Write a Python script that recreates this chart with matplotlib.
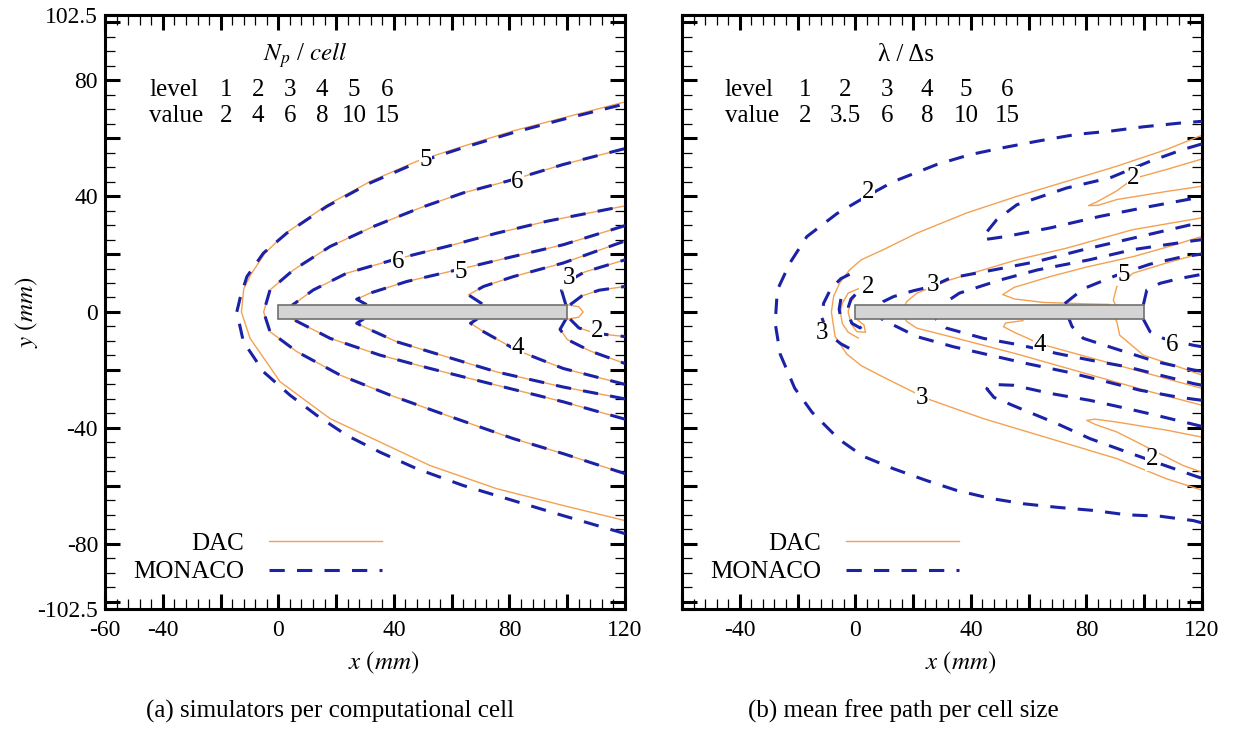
import matplotlib.pyplot as plt
from matplotlib.lines import Line2D
from matplotlib.patches import Rectangle
from matplotlib.ticker import MultipleLocator

plt.rcParams['font.family'] = 'Liberation Serif'
plt.rcParams['mathtext.fontset'] = 'stix'

# level tables printed in each panel
levels = ['1', '2', '3', '4', '5', '6']
np_values = ['2', '4', '6', '8', '10', '15']
mfp_values = ['2', '3.5', '6', '8', '10', '15']

# flat plate, mm
plate_x = [0, 100]
plate_y = [-2.5, 2.5]

# ---- (a) simulators per cell, iso-lines as (x, y) in mm ----
np_lvl5_outer_monaco = [(120, -76.5), (98.6, -70.3), (81.3, -65.1), (64, -59.9), (47.9, -54.1),
                        (35.2, -48.4), (23.7, -42.6), (13.3, -35.7), (4, -28.7), (-5.1, -20.7),
                        (-12.1, -10.3), (-14.4, 0), (-13.2, 5), (-10.9, 12.2), (-5.2, 20.3),
                        (2.9, 27.2), (16.7, 36.4), (31.7, 44.5), (47.9, 51.5), (64, 56.7),
                        (81.3, 61.9), (98.6, 66.5), (120, 71.8)]
np_lvl5_outer_dac = [(120, -72), (98.6, -66.8), (75.6, -61), (52.5, -53), (35.2, -44.9),
                     (17.9, -36.8), (0.6, -24.1), (-9.8, -9.1), (-12.8, 0), (-12, 8),
                     (-9.5, 13), (-4.5, 20.5), (3, 27.5), (16.7, 36.8), (31.7, 45),
                     (47.9, 52), (64, 57.2), (81.3, 62.5), (98.6, 67), (120, 72.5)]
np_lvl6_outer = [(120, -55.8), (98.6, -48.9), (81.3, -43.7), (58.3, -35.7), (38.7, -28.7),
                 (21.4, -21.8), (6.4, -13.7), (-2.9, -6.8), (-5.1, 0), (-2.9, 7.6),
                 (5.2, 14.5), (17.9, 22.6), (32.9, 29.5), (49, 35.9), (64, 41.1),
                 (81.3, 45.7), (98.6, 50.9), (120, 56.4)]
np_lvl6_inner = [(120, -37), (98.6, -31), (75.6, -25.3), (52.5, -19.5), (35.2, -14.9),
                 (17.9, -9.1), (5, -2.5), (3, 0), (5, 2.5), (12.1, 7.6), (23.7, 13.4),
                 (39.8, 18), (58.3, 22.6), (75.6, 27.2), (92.9, 31.3), (120, 36.6)]
np_lvl5_inner = [(120, -30), (98.6, -25.9), (75.6, -20.7), (58.3, -15.5), (41, -10.3),
                 (30.6, -5.6), (27.1, -3.9), (29.4, -2.5), (30, 0), (30.6, 2.5), (27.1, 4.4),
                 (31.7, 6.5), (44.4, 10.5), (61.7, 14.5), (79, 18.6), (98.6, 23.2), (120, 29.8)]
np_lvl4 = [(120, -25), (98.6, -19.5), (82.5, -13.2), (71, -6.8), (66.5, -3.9), (68.7, -2.5),
           (70, 0), (71, 2.5), (65.8, 5.9), (71, 8.8), (81.3, 12.2), (98.6, 16.9), (120, 24.5)]
np_lvl3_upper = [(99.5, 2.5), (98, 7.5), (101, 11), (106, 13.8), (120, 18)]
np_lvl3_lower = [(99.5, -2.5), (97.5, -6), (100, -9.5), (108, -13.5), (120, -17.8)]
np_lvl2_upper = [(101, 2.5), (105, 5.5), (111, 7.5), (120, 8.8)]
np_lvl2_lower = [(101, -2.5), (104, -5.5), (110, -7.4), (120, -8.5)]
np_dac_nose = [(100, 2.5), (104, 1.8), (105.5, 0), (104, -1.8), (100, -2.5)]

np_shared = [np_lvl6_outer, np_lvl6_inner, np_lvl5_inner, np_lvl4,
             np_lvl3_upper, np_lvl3_lower, np_lvl2_upper, np_lvl2_lower]
np_dac_lines = [np_lvl5_outer_dac, np_dac_nose] + np_shared
np_monaco_lines = [np_lvl5_outer_monaco] + np_shared

np_labels = [('5', 50.9, 52.6), ('6', 82.7, 45), ('6', 41.4, 17.3), ('5', 63, 13.8),
             ('3', 100.6, 11.8), ('2', 110.3, -6.6), ('4', 82.7, -12.5)]

# ---- (b) mean free path per cell size ----
mfp_dac_outer = [(120, -61.5), (107.8, -57.6), (90.5, -50.6), (67.4, -43.7), (44.3, -36.8),
                 (24.7, -29.9), (9.7, -22.5), (2, -18.5), (-3, -14.5), (-7, -8.5), (-8.3, 0),
                 (-7.5, 5.5), (-5.4, 10), (-2, 14.5), (2, 18), (9.7, 21.5), (21.3, 27.2),
                 (38.6, 34.2), (55.9, 39.9), (73.2, 45.1), (90.5, 50.3), (107.8, 56.1), (120, 61)]
mfp_dac_tongue_up = [(120, 52.8), (107.8, 49.2), (96.2, 46), (90.5, 41.8), (84, 38.2),
                     (80.7, 36.7), (84, 36.8), (90.5, 38.8), (107.8, 41.6), (120, 43.4)]
mfp_dac_tongue_lo = [(120, -43.2), (107.8, -40.8), (90.5, -38), (83, -37), (80.1, -37.4),
                     (83, -38.8), (90.5, -41.4), (102, -47.2), (113.5, -53), (120, -55.3)]
mfp_dac_lvl3 = [(120, -32.2), (102, -27.5), (78.9, -21), (55.9, -14.5), (32.8, -8.5),
                (21.3, -5.6), (17.8, -3.3), (16, 0), (17.8, 3.6), (21.3, 6.5), (32.8, 11.1),
                (55.9, 18), (73, 22), (96, 28.4), (120, 32.5)]
mfp_dac_lvl4_up = [(88, 2.6), (80, 2.8), (65, 3.3), (55, 4.5), (51, 6), (55, 8.5), (67.4, 12.2),
                   (80, 15.5), (96.2, 19.1), (110, 23), (120, 26.1)]
mfp_dac_lvl4_lo = [(120, -26.4), (90.5, -18.3), (63.9, -11), (55, -7), (51.3, -5.1),
                   (52, -3.8), (58, -3)]
mfp_dac_lvl5_up = [(90, 2.5), (89.3, 4.1), (90.5, 8.8), (96.2, 13.4), (108, 17), (120, 20.3)]
mfp_dac_lvl5_lo = [(120, -21.8), (113.5, -19.5), (99.7, -14.9), (91.5, -8), (90.5, -3.3), (90, -2.5)]
mfp_dac_le_mid = [(1, 8), (-2.5, 6.5), (-4.5, 3), (-5.2, 0), (-4.5, -4), (-2.5, -7), (1, -9)]
mfp_dac_le_loop = [(0, 5.5), (-1.8, 3), (-2.5, 0), (-1.5, -4), (0.5, -6.8), (3.5, -7),
                   (3, -4.5), (0.5, -2.5)]

mfp_mon_outer = [(120, -72.8), (117, -72), (105.5, -70.5), (93.9, -70), (82.4, -68.5),
                 (69.7, -67.4), (58.2, -66.2), (46.6, -64.3), (35.1, -61.6), (24.7, -58.2),
                 (13.2, -54.1), (2.7, -49.8), (-5.6, -44), (-15, -34.6), (-21, -26.3),
                 (-26, -14.6), (-27.7, -4.2), (-27.5, 0), (-27, 7.6), (-22.6, 17), (-16.8, 26),
                 (-6.3, 34), (4, 40), (13.2, 45), (28.2, 50.9), (39.7, 54.3), (51.2, 56.7),
                 (62.8, 58.9), (76.6, 61.3), (88.2, 62.4), (99.7, 63.9), (113.5, 65.3), (120, 65.8)]
mfp_mon_tongue_up = [(120, 58), (113.5, 56.1), (102, 52), (88.2, 46.3), (73.2, 42.8),
                     (55.9, 37), (48.9, 31.8), (45, 27), (44.5, 25), (47, 25.3), (52.4, 26.1),
                     (67.4, 29), (84.7, 33), (102, 36.4), (118.2, 39.4), (120, 39.8)]
mfp_mon_tongue_lo = [(120, -39.5), (115.9, -38.5), (104.3, -35.7), (93.9, -33.3), (81.2, -30.5),
                     (67.4, -28.1), (54.7, -25.3), (47, -25), (45.5, -26.5), (48, -29.5),
                     (57, -33.3), (69.7, -38.5), (81.2, -43.7), (93.9, -48.3), (105.5, -52.4),
                     (117, -56.4), (120, -57.4)]
mfp_mon_lvl3 = [(120, -30.5), (111.2, -29.3), (98.5, -27), (84.7, -23.5), (73.2, -20.7),
                (59.3, -17.8), (46.6, -14.9), (33.9, -12), (21.3, -8.5), (9.7, -2.8), (6, 0),
                (9.7, 3.6), (13.2, 5.3), (20, 7.3), (26.4, 8.8), (32.8, 11.7), (47.8, 14.5),
                (62.8, 17.4), (78.9, 21.5), (96.2, 25.5), (113.5, 29.5), (120, 31)]
mfp_mon_lvl4 = [(120, -25.3), (117, -24.7), (105.5, -21.8), (93.9, -18.9), (81.2, -16.6),
                (69.7, -14.3), (57, -11.4), (44.3, -9.1), (31.6, -5.6), (28, -2.5), (28, 0),
                (30, 2.5), (36, 6.5), (50, 11), (63, 14.5), (81, 18), (96, 21.5), (113, 24), (120, 25)]
mfp_mon_lvl5 = [(120, -20.5), (117, -20), (104.3, -17.2), (91.6, -13.2), (78.9, -9.1),
                (75, -5), (74, -2.5), (73, 0), (72, 2.5), (78.9, 8), (90, 12.5),
                (102, 16.5), (113, 19), (120, 20)]
mfp_mon_lvl6_up = [(99.7, 2.5), (100.9, 7.6), (105.5, 9.9), (112, 11.5), (120, 13)]
mfp_mon_lvl6_lo = [(99.7, -2.5), (102, -6.8), (106.6, -9.1), (117, -11.5), (120, -12)]
mfp_mon_le_outer = [(-2, 13), (-5, 11.5), (-8.5, 8), (-11, 3), (-11.6, -2), (-9.5, -7.5),
                    (-5, -11), (-2, -12.6)]
mfp_mon_le_mid = [(-5, 4.5), (-5.6, 1), (-5, -2.5)]
mfp_mon_le_inner = [(0, 6), (-1.5, 4.5), (-2.4, 1.8), (-2.2, -1.5), (-1.2, -3.9), (1.6, -5.5), (3, -4.5)]

mfp_dac_lines = [mfp_dac_outer, mfp_dac_tongue_up, mfp_dac_tongue_lo, mfp_dac_lvl3,
                 mfp_dac_lvl4_up, mfp_dac_lvl4_lo, mfp_dac_lvl5_up, mfp_dac_lvl5_lo,
                 mfp_dac_le_mid, mfp_dac_le_loop]
mfp_monaco_lines = [mfp_mon_outer, mfp_mon_tongue_up, mfp_mon_tongue_lo, mfp_mon_lvl3,
                    mfp_mon_lvl4, mfp_mon_lvl5, mfp_mon_lvl6_up, mfp_mon_lvl6_lo,
                    mfp_mon_le_outer, mfp_mon_le_mid, mfp_mon_le_inner]

mfp_labels = [('2', 4.4, 41.5), ('2', 4.4, 8.7), ('3', 26.9, 9.3), ('5', 92.8, 12.8),
              ('2', 96.2, 46.4), ('3', -11.5, -7.3), ('4', 63.9, -11.4), ('6', 109.6, -11.4),
              ('3', 23, -29.8), ('2', 102.7, -50.9)]

x_ticks = list(range(-60, 121, 20))
y_ticks = [-102.5] + list(range(-100, 101, 20)) + [102.5]
x_labels_a = {-60: '-60', -40: '-40', 0: '0', 40: '40', 80: '80', 120: '120'}
x_labels_b = {-40: '-40', 0: '0', 40: '40', 80: '80', 120: '120'}
y_labels = {-102.5: '-102.5', -80: '-80', -40: '-40', 0: '0', 40: '40', 80: '80', 102.5: '102.5'}

DAC_COLOR = '#F4A152'
MON_COLOR = '#1C22A6'
DASH = (0, (5, 4))


def draw_panel(ax, dac_lines, mon_lines, labels, x_labels, show_y):
    for line in dac_lines:
        xs, ys = zip(*line)
        ax.plot(xs, ys, color=DAC_COLOR, lw=1.0, zorder=2)
    for line in mon_lines:
        xs, ys = zip(*line)
        ax.plot(xs, ys, color=MON_COLOR, lw=2.2, ls=DASH, zorder=3)

    ax.add_patch(Rectangle((plate_x[0], plate_y[0]), plate_x[1] - plate_x[0],
                           plate_y[1] - plate_y[0], facecolor='#D4D4D4',
                           edgecolor='#707070', lw=1.2, zorder=4))

    for txt, x, y in labels:
        ax.text(x, y, txt, fontsize=18, ha='center', va='center', zorder=5,
                bbox=dict(facecolor='white', edgecolor='none', pad=0.3))

    ax.set_xlim(-60, 120)
    ax.set_ylim(-102.5, 102.5)
    ax.set_xticks(x_ticks)
    ax.set_xticklabels([x_labels.get(t, '') for t in x_ticks])
    ax.set_yticks(y_ticks)
    if show_y:
        ax.set_yticklabels([y_labels.get(t, '') for t in y_ticks])
        ax.set_ylabel(r'$y\ (mm)$', fontsize=18)
        ax.yaxis.set_label_coords(-0.125, 0.5)
    else:
        ax.set_yticklabels([])
    ax.xaxis.set_minor_locator(MultipleLocator(4))
    ax.yaxis.set_minor_locator(MultipleLocator(5))
    ax.tick_params(which='both', direction='in', top=True, right=True, labelsize=17)
    ax.tick_params(which='major', length=11, width=2.2)
    ax.tick_params(which='minor', length=7, width=0.9)
    ax.tick_params(axis='x', pad=8)
    ax.tick_params(axis='y', pad=5)
    for s in ax.spines.values():
        s.set_linewidth(2.2)
    ax.set_xlabel(r'$x\ (mm)$', fontsize=18)
    ax.xaxis.set_label_coords(0.535, -0.068)

    handles = [Line2D([], [], color=DAC_COLOR, lw=1.0),
               Line2D([], [], color=MON_COLOR, lw=2.2, ls=DASH)]
    ax.legend(handles, ['DAC', 'MONACO'], loc='lower left', bbox_to_anchor=(0.03, 0.022),
              frameon=False, markerfirst=False, fontsize=18, handlelength=4.5,
              handletextpad=1.0, labelspacing=0.25, borderpad=0)


def draw_table(ax, title, values, title_x, col_x, level_x):
    ax.text(title_x, 88.6, title, fontsize=18, ha='center', va='center')
    ax.text(level_x, 76.5, 'level', fontsize=18, ha='left', va='center')
    ax.text(level_x, 67.5, 'value', fontsize=18, ha='left', va='center')
    for x, lv, val in zip(col_x, levels, values):
        ax.text(x, 76.5, lv, fontsize=18, ha='center', va='center')
        ax.text(x, 67.5, val, fontsize=18, ha='center', va='center')


fig = plt.figure(figsize=(12.36, 7.30), dpi=100)
ax_a = fig.add_axes([0.085, 0.1658, 0.4207, 0.8137])
ax_b = fig.add_axes([0.5518, 0.1658, 0.4207, 0.8137])

draw_panel(ax_a, np_dac_lines, np_monaco_lines, np_labels, x_labels_a, True)
draw_panel(ax_b, mfp_dac_lines, mfp_monaco_lines, mfp_labels, x_labels_b, False)

draw_table(ax_a, r'$N_p$ / $cell$', np_values, 9.2,
           [-18.1, -7, 4, 15.1, 26.2, 37.6], -44.8)
draw_table(ax_b, 'λ / Δs', mfp_values, 17.5,
           [-17.4, -3.6, 10.9, 24.8, 38.3, 52.5], -45.2)

fig.text(0.267, 0.025, '(a) simulators per computational cell', fontsize=18,
         ha='center', va='center')
fig.text(0.731, 0.025, '(b) mean free path per cell size', fontsize=18,
         ha='center', va='center')

fig.savefig('out.png', dpi=100)
